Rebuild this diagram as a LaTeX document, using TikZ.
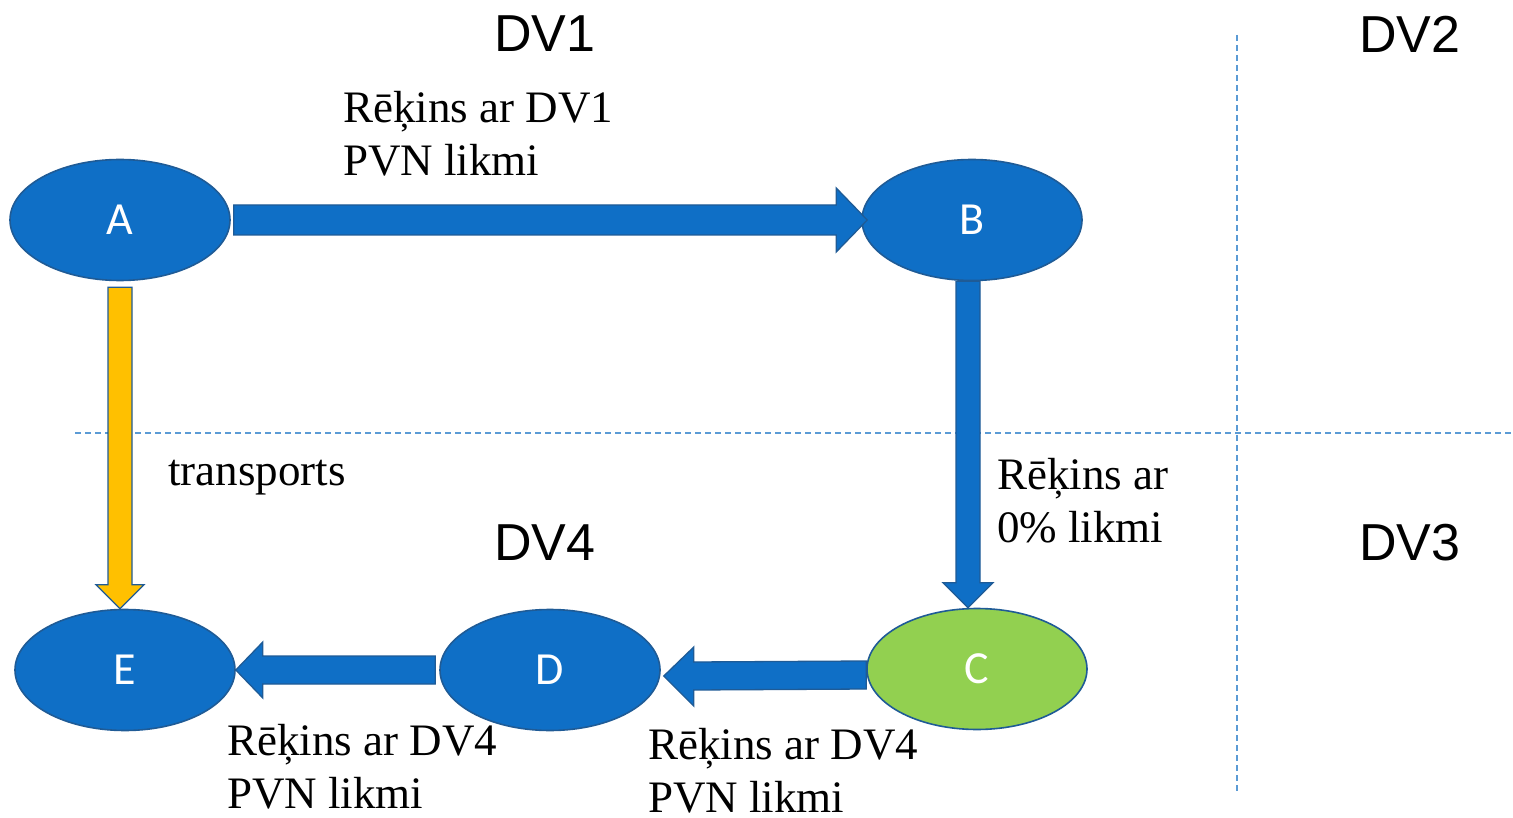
\documentclass[tikz,border=0pt]{standalone}
\usepackage{fontspec}
\setmainfont{Liberation Serif}
\newfontfamily\dvsans{Liberation Sans}
\newfontfamily\nodesans{Carlito}
\usetikzlibrary{shapes.geometric,calc}
\definecolor{nodeblue}{HTML}{0F6FC6}
\definecolor{edgeblue}{HTML}{1F5B96}
\definecolor{nodegreen}{HTML}{92D050}
\definecolor{arrowyellow}{HTML}{FFC000}
\definecolor{gridblue}{HTML}{5B9BD5}
\tikzset{
  party/.style={ellipse, draw=edgeblue, line width=1.6pt, fill=nodeblue,
    minimum width=220pt, minimum height=121pt, inner sep=0pt,
    text=white, font=\nodesans\fontsize{46}{52}\selectfont},
  blockarrow/.style={draw=edgeblue, line width=1.3pt, fill=nodeblue, line join=miter},
  yellowarrow/.style={draw=edgeblue, line width=1.3pt, fill=arrowyellow, line join=miter},
  lbl/.style={anchor=base west, align=left, inner sep=0pt,
    font=\fontsize{45}{53}\selectfont},
  dvlabel/.style={inner sep=0pt, font=\dvsans\fontsize{52}{60}\selectfont},
  zone/.style={draw=gridblue, line width=1.4pt, dash pattern=on 6pt off 4pt}
}
\begin{document}
\begin{tikzpicture}[x=1pt,y=-1pt]
\useasboundingbox (0,0) rectangle (1513,818);
% zone borders
\coordinate (hl) at (75,433);
\coordinate (hr) at (1513,433);
\coordinate (vt) at (1237,35);
\coordinate (vb) at (1237,792);
\draw[zone] (hl) -- (hr);
\draw[zone] (vt) -- (vb);
% zone labels
\node[dvlabel] (dv1) at (545,34) {DV1};
\node[dvlabel] (dv2) at (1410,34) {DV2};
\node[dvlabel] (dv4) at (545,543) {DV4};
\node[dvlabel] (dv3) at (1410,543) {DV3};
% parties
\node[party] (A) at (120,220) {A};
\node[party] (B) at (972,220) {B};
\node[party, fill=nodegreen] (C) at (977,669) {C};
\node[party] (D) at (550,670) {D};
\node[party] (E) at (125,670) {E};
% A -> B
\draw[blockarrow]
  ($(A.east)+(3,-15)$) -- ($(B.west)+(-25,-15)$) -- ($(B.west)+(-25,-32)$)
  -- ($(B.west)+(6,0)$) -- ($(B.west)+(-25,32)$) -- ($(B.west)+(-25,15)$)
  -- ($(A.east)+(3,15)$) -- cycle;
% B -> C
\draw[blockarrow]
  ($(B.south)+(-16,0)$) -- ($(C.north)+(-21,-25)$) -- ($(C.north)+(-34,-25)$)
  -- ($(C.north)+(-9,0)$) -- ($(C.north)+(16,-25)$) -- ($(C.north)+(3,-25)$)
  -- ($(B.south)+(8,0)$) -- cycle;
% A -> E (yellow)
\draw[yellowarrow]
  ($(A.south)+(-12,6)$) -- ($(E.north)+(-17,-24)$) -- ($(E.north)+(-29,-24)$)
  -- ($(E.north)+(-5,0)$) -- ($(E.north)+(19,-24)$) -- ($(E.north)+(7,-24)$)
  -- ($(A.south)+(12,6)$) -- cycle;
% C -> D
\draw[blockarrow]
  ($(C.west)+(0,-8)$) -- ($(D.east)+(33,-8)$) -- ($(D.east)+(33,-23)$)
  -- ($(D.east)+(3,6)$) -- ($(D.east)+(33,36)$) -- ($(D.east)+(33,20)$)
  -- ($(C.west)+(0,20)$) -- cycle;
% D -> E
\draw[blockarrow]
  ($(D.west)+(-4,-14)$) -- ($(E.east)+(27,-14)$) -- ($(E.east)+(27,-28)$)
  -- ($(E.east)+(0,0)$) -- ($(E.east)+(27,28)$) -- ($(E.east)+(27,14)$)
  -- ($(D.west)+(-4,14)$) -- cycle;
% labels (base anchor = baseline of the last line)
\node[lbl] (l1) at (343,176) {Rēķins ar DV1\\PVN likmi};
\node[lbl] (l2) at (168,485) {transports};
\node[lbl] (l3) at (997,542) {Rēķins ar\\0\% likmi};
\node[lbl] (l4) at (227,808) {Rēķins ar DV4\\PVN likmi};
\node[lbl, text depth=0pt] (l5) at (648,812) {Rēķins ar DV4\\PVN likmi};
\end{tikzpicture}
\end{document}
